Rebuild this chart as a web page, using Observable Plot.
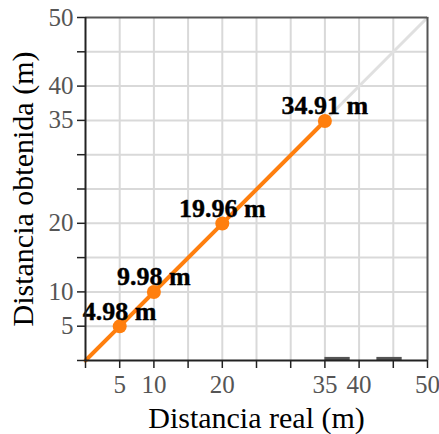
<!DOCTYPE html>
<html>
<head>
<meta charset="utf-8">
<script src="https://cdn.jsdelivr.net/npm/d3@7"></script>
<script src="https://cdn.jsdelivr.net/npm/@observablehq/plot@0.6"></script>
<style>
  html, body { margin: 0; padding: 0; background: #fff; }
  #chart svg { display: block; }
</style>
</head>
<body>
<div id="chart"></div>
<script>
// Data
const realDist = [0, 5, 10, 20, 35];
const measuredDist = [0, 4.98, 9.98, 19.96, 34.91];
const pointReal = [5, 10, 20, 35];
const pointMeasured = [4.98, 9.98, 19.96, 34.91];
const pointLabels = ["4.98 m", "9.98 m", "19.96 m", "34.91 m"];
const identityLine = [0, 50];
const tickValues = [0, 5, 10, 15, 20, 25, 30, 35, 40, 45, 50];
const labeledTicks = [5, 10, 20, 35, 40, 50];
const gridValues = [5, 10, 15, 20, 25, 30, 35, 40, 45];
const barStart = [35, 42.6];
const barEnd = [38.7, 46.3];

const lineData = realDist.map((x, i) => ({x, y: measuredDist[i]}));
const points = pointReal.map((x, i) => ({x, y: pointMeasured[i], label: pointLabels[i]}));
const identity = identityLine.map(v => ({x: v, y: v}));
const bars = barStart.map((s, i) => ({x1: s, x2: barEnd[i]}));

const fmt = d => labeledTicks.includes(d) ? String(d) : "";

const chart = Plot.plot({
  width: 439,
  height: 434,
  marginLeft: 85,
  marginRight: 12,
  marginTop: 17,
  marginBottom: 74,
  style: {fontFamily: "'Liberation Serif', 'DejaVu Serif', serif", background: "#fff"},
  x: {domain: [0, 50]},
  y: {domain: [0, 50]},
  marks: [
    Plot.ruleX(gridValues, {stroke: "#d9d9d9", strokeWidth: 2}),
    Plot.ruleY(gridValues, {stroke: "#d9d9d9", strokeWidth: 2}),
    Plot.line(identity, {x: "x", y: "y", stroke: "#e0e0e0", strokeWidth: 3}),
    Plot.rect(bars, {x1: "x1", x2: "x2", y1: 0, y2: 0.45, fill: "#555"}),
    Plot.line(lineData, {x: "x", y: "y", stroke: "#ff7f0e", strokeWidth: 4}),
    Plot.dot(points, {x: "x", y: "y", r: 7, fill: "#ff7f0e", stroke: "none"}),
    Plot.text(points, {x: "x", y: "y", text: "label", dy: -15, fontSize: 26, fontWeight: "bold", fill: "#000", stroke: "#000", strokeWidth: 0.4, textAnchor: "middle"}),
    // frame: top and right dark gray
    Plot.ruleY([50], {stroke: "#555", strokeWidth: 2}),
    Plot.ruleX([50], {stroke: "#555", strokeWidth: 2}),
    Plot.axisX({ticks: tickValues, tickFormat: fmt, tickSize: 8, tickPadding: 7, fontSize: 25, color: "#555", stroke: "#222", strokeWidth: 1.5, label: null}),
    Plot.axisY({ticks: tickValues, tickFormat: fmt, tickSize: 8, tickPadding: 4, fontSize: 25, color: "#555", stroke: "#222", strokeWidth: 1.5, label: null}),
    Plot.ruleY([0], {stroke: "#222", strokeWidth: 2}),
    Plot.ruleX([0], {stroke: "#222", strokeWidth: 2}),
    Plot.axisX({ticks: [], label: "Distancia real (m)", labelAnchor: "center", labelArrow: "none", labelOffset: 67, fontSize: 30, color: "#000"}),
    Plot.axisY({ticks: [], label: "Distancia obtenida (m)", labelAnchor: "center", labelArrow: "none", labelOffset: 74, fontSize: 30, color: "#000"})
  ]
});
document.getElementById("chart").appendChild(chart);
</script>
</body>
</html>
